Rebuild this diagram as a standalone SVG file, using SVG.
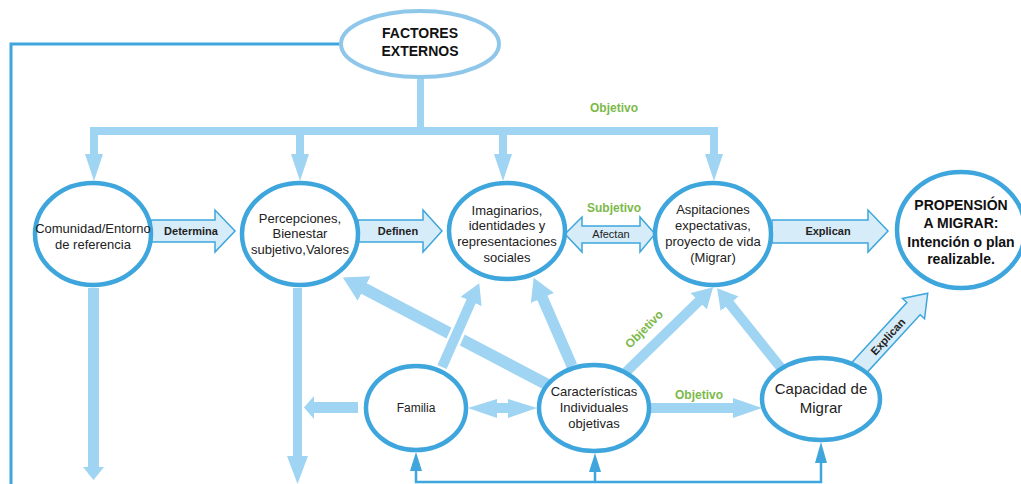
<svg xmlns="http://www.w3.org/2000/svg" width="1021" height="484" viewBox="0 0 1021 484">
<style>
  .node { fill: #ffffff; stroke: #3ea6dc; stroke-width: 4.5; }
  .top { fill: #ffffff; stroke: #8ec7ea; stroke-width: 4; }
  .t { font-family: "Liberation Sans", Arial, sans-serif; font-size: 13px; fill: #222222; text-anchor: middle; }
  .t12 { font-size: 12px; }
  .t15 { font-size: 15px; }
  .tb { font-family: "Liberation Sans", Arial, sans-serif; font-weight: bold; font-size: 14px; fill: #111111; text-anchor: middle; }
  .lbl { font-family: "Liberation Sans", Arial, sans-serif; font-size: 11px; fill: #222222; text-anchor: middle; }
  .bold { font-weight: bold; }
  .green { font-family: "Liberation Sans", Arial, sans-serif; font-weight: bold; font-size: 12px; fill: #7cb94a; text-anchor: middle; }
  .thick { stroke: #9fd4f2; fill: none; }
  .fillb { fill: #9fd4f2; }
  .block { fill: #d6ecf9; stroke: #3ea6dc; stroke-width: 1.5; }
  .dark { stroke: #3ea6dc; fill: none; stroke-width: 2.5; }
  .darkf { fill: #3ea6dc; }
</style>
<defs>
  <marker id="ah" markerUnits="strokeWidth" viewBox="0 0 10 10" markerWidth="2" markerHeight="2.3" refX="0.5" refY="5" orient="auto" preserveAspectRatio="none">
    <path d="M0,0 L10,5 L0,10 z" fill="#9fd4f2"/>
  </marker>
</defs>
<rect width="1021" height="484" fill="#ffffff"/>
<g id="connectors">
  <path class="dark" style="stroke-width:3" d="M342,44 L11,44 L11,484"/>
  <path class="thick" style="stroke-width:7" d="M420.5,76 L420.5,135"/>
  <path class="thick" style="stroke-width:8;stroke-linejoin:miter" d="M94,156 L94,131 L714,131 L714,156"/>
  <path class="thick" style="stroke-width:8" d="M300,131 L300,156 M503,131 L503,156"/>
  <polygon class="fillb" points="85,154 103,154 94,181"/>
  <polygon class="fillb" points="291,154 309,154 300,181"/>
  <polygon class="fillb" points="494,154 512,154 503,181"/>
  <polygon class="fillb" points="705,154 723,154 714,181"/>
  <text class="green" x="614" y="112">Objetivo</text>
  <polygon class="block" points="151,220 215,220 215,210 235,231 215,252 215,242 151,242"/>
  <text class="lbl bold" x="191" y="235">Determina</text>
  <polygon class="block" points="358,220 423,220 423,210 442,231 423,252 423,242 358,242"/>
  <text class="lbl bold" x="398" y="235">Definen</text>
  <polygon class="block" points="565,234 582,217 582,226 640,226 640,217 655,234 640,252 640,243 582,243 582,252"/>
  <text class="lbl" x="611" y="238">Afectan</text>
  <text class="green" x="614" y="212">Subjetivo</text>
  <polygon class="block" points="772,220 868,220 868,210 888,231 868,252 868,243 772,243"/>
  <text class="lbl bold" x="828" y="235">Explican</text>
  <path class="thick" style="stroke-width:11" d="M93.5,288 L93.5,469"/>
  <polygon class="fillb" points="83,467 104,467 93.5,480"/>
  <path class="thick" style="stroke-width:9" d="M297.5,288 L297.5,458"/>
  <polygon class="fillb" points="287,456 308,456 297.5,484"/>
  <polygon class="fillb" points="358,402 314,402 314,396 304,407.5 314,419 314,413 358,413"/>
  <line class="thick" style="stroke-width:12" x1="548" y1="385" x2="363" y2="288" marker-end="url(#ah)"/>
  <line x1="442" y1="367" x2="472" y2="300" stroke="#ffffff" stroke-width="15"/>
  <line class="thick" style="stroke-width:10" x1="442" y1="367" x2="471.5" y2="300.5" marker-end="url(#ah)"/>
  <line class="thick" style="stroke-width:11" x1="572" y1="366" x2="542" y2="297" marker-end="url(#ah)"/>
  <line class="thick" style="stroke-width:10" x1="626" y1="372" x2="699.5" y2="300.5" marker-end="url(#ah)"/>
  <line class="thick" style="stroke-width:10" x1="781" y1="368" x2="729" y2="303" marker-end="url(#ah)"/>
  <text class="green" transform="translate(647,332) rotate(-45)">Objetivo</text>
  <polygon class="fillb" points="468,408 497,399 497,403 508,403 508,399 537,408 508,418 508,413 497,413 497,418"/>
  <polygon class="fillb" points="649,403 733,403 733,398 762,408 733,418 733,413 649,413"/>
  <text class="green" x="699" y="399">Objetivo</text>
  <g transform="translate(858,369) rotate(-47.4)">
    <polygon class="block" points="0,-9 82,-9 82,-15 103,0 82,15 82,9 0,9"/>
    <text class="lbl bold" x="44" y="4">Explican</text>
  </g>
  <path class="dark" d="M416,470 L416,482 L821,482 L821,462 M595,482 L595,471"/>
  <polygon class="darkf" points="416,452 410,471 422,471"/>
  <polygon class="darkf" points="595,453 589,472 601,472"/>
  <polygon class="darkf" points="821,442 815,463 827,463"/>
</g>
<g id="n-factores">
  <ellipse class="top" cx="420" cy="44" rx="79" ry="33"/>
  <text class="tb" x="420" y="38">FACTORES</text>
  <text class="tb" x="420" y="56">EXTERNOS</text>
</g>
<g id="n-comunidad">
  <ellipse class="node" cx="93" cy="234" rx="58" ry="51"/>
  <text class="t" x="93" y="233">Comunidad/Entorno</text>
  <text class="t" x="93" y="249">de referencia</text>
</g>
<g id="n-percepciones">
  <ellipse class="node" cx="300" cy="234" rx="58" ry="51"/>
  <text class="t" x="300" y="223">Percepciones,</text>
  <text class="t" x="300" y="238">Bienestar</text>
  <text class="t" x="300" y="254">subjetivo,Valores</text>
</g>
<g id="n-imaginarios">
  <ellipse class="node" cx="507" cy="231" rx="58" ry="48"/>
  <text class="t" x="507" y="215">Imaginarios,</text>
  <text class="t" x="507" y="230">identidades y</text>
  <text class="t" x="507" y="246">representaciones</text>
  <text class="t" x="507" y="262">sociales</text>
</g>
<g id="n-aspiraciones">
  <ellipse class="node" cx="713" cy="234" rx="58" ry="51"/>
  <text class="t" x="713" y="214">Aspitaciones</text>
  <text class="t" x="713" y="230">expectativas,</text>
  <text class="t" x="713" y="246">proyecto de vida</text>
  <text class="t" x="713" y="262">(Migrar)</text>
</g>
<g id="n-propension">
  <ellipse class="node" cx="961" cy="230" rx="64" ry="58"/>
  <text class="tb" x="961" y="210">PROPENSIÓN</text>
  <text class="tb" x="961" y="228">A MIGRAR:</text>
  <text class="tb" x="961" y="247">Intención o plan</text>
  <text class="tb" x="961" y="264">realizable.</text>
</g>
<g id="n-familia">
  <ellipse class="node" cx="416" cy="408" rx="50" ry="42"/>
  <text class="t t12" x="416" y="412">Familia</text>
</g>
<g id="n-caracteristicas">
  <ellipse class="node" cx="594" cy="408" rx="55" ry="43"/>
  <text class="t" x="594" y="396">Características</text>
  <text class="t" x="594" y="412">Individuales</text>
  <text class="t" x="594" y="428">objetivas</text>
</g>
<g id="n-capacidad">
  <ellipse class="node" cx="821" cy="399" rx="59" ry="41"/>
  <text class="t t15" x="821" y="394">Capacidad de</text>
  <text class="t t15" x="821" y="413">Migrar</text>
</g>
</svg>
